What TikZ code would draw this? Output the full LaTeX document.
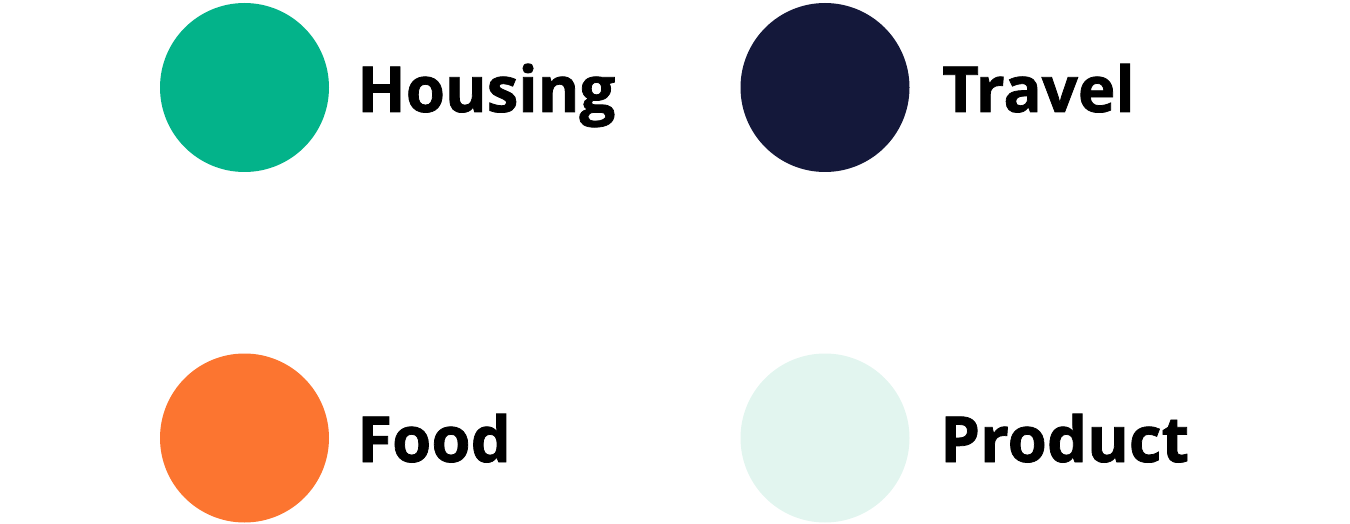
\documentclass[tikz,border=0pt]{standalone}
\usepackage{fontspec}
\setmainfont{Open Sans}[BoldFeatures={FakeBold=1.2}]
\definecolor{cgreen}{HTML}{03B38A}
\definecolor{cnavy}{HTML}{14183A}
\definecolor{corange}{HTML}{FC7530}
\definecolor{clight}{HTML}{E2F5EF}
\begin{document}
\begin{tikzpicture}[x=1pt,y=-1pt,
  dot/.style={circle,minimum size=169pt,inner sep=0pt,draw=none},
  lbl/.style={anchor=base west,inner sep=0pt,font=\fontsize{63.5}{70}\selectfont\bfseries}]
\useasboundingbox (0,0) rectangle (1350,524);
\node[dot,fill=cgreen] (c1) at (244.5,87.5) {};
\node[dot,fill=cnavy] (c2) at (825,87.5) {};
\node[dot,fill=corange] (c3) at (244.5,438) {};
\node[dot,fill=clight] (c4) at (825,438) {};
\node[lbl] (t1) at (357,112) {Housing};
\node[lbl] (t2) at (942,112) {Travel};
\node[lbl] (t3) at (357,462) {Food};
\node[lbl] (t4) at (940,462) {Product};
\end{tikzpicture}
\end{document}
